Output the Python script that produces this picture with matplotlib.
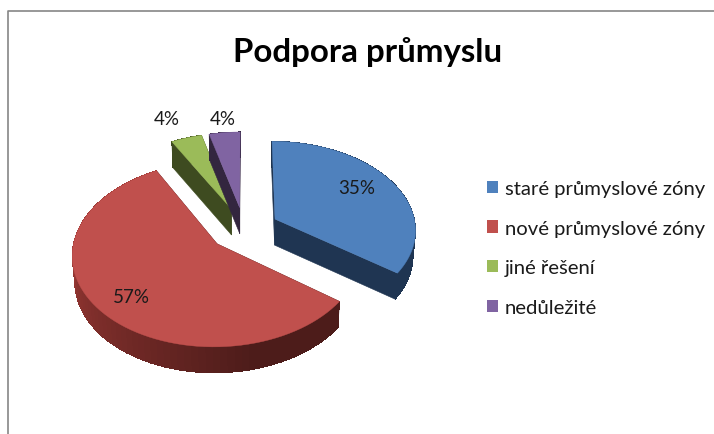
import numpy as np
import matplotlib.pyplot as plt
from matplotlib.patches import Patch

labels = ['staré průmyslové zóny', 'nové průmyslové zóny', 'jiné řešení', 'nedůležité']
values = [35, 57, 4, 4]
colors = ['#4f81bd', '#c0504d', '#9bbb59', '#8064a2']
wall_colors = ['#1f3552', '#4d1c1a', '#3e4b20', '#33263f']
title = 'Podpora průmyslu'

# fake 3d: perspective view of a flat disc, everything in image pixels
cx, cy = 244, 230
ax_a, ax_b = 141, 88.3
persp = 0.109
explode = 0.25
depth = 26
label_r = [0.72, 0.75, 1.38, 1.2]
label_shift = [(-4, -4), (1, 5), (-5, 4), (1, -1)]

plt.rcParams['font.family'] = ['Lato', 'DejaVu Sans']


def project(x, y):
    d = 1 - persp * y
    return cx + ax_a * x / d, cy + ax_b * y / d


def lower(px, py):
    # the bottom plane sits a bit further away so it is slightly narrower
    return cx + (px - cx) * 0.985, py + depth


def slice_point(th, bis, r):
    # th and bis are clockwise from 12 o'clock
    x = explode * np.sin(bis) + r * np.sin(th)
    y = -explode * np.cos(bis) - r * np.cos(th)
    return project(x, y)


def wall_shade(c, th, boost):
    if not boost:
        return c
    f = np.interp(np.degrees(th), [165, 200, 270], [1.0, 1.35, 2.0])
    rgb = np.array(plt.matplotlib.colors.to_rgb(c)) * f
    return tuple(np.clip(rgb, 0, 1))


fig = plt.figure(figsize=(7.14, 4.35), dpi=100)
ax = fig.add_axes([0, 0, 1, 1])
ax.set_xlim(0, 714)
ax.set_ylim(435, 0)
ax.axis('off')

# chart frame
ax.plot([8, 8, 714], [435, 12, 12], color='#868686', lw=1.2)

ends = np.cumsum(values) / sum(values) * 2 * np.pi
starts = np.r_[0, ends[:-1]]

# back slices first, red goes on top
for i in [2, 3, 0, 1]:
    t0, t1 = starts[i], ends[i]
    bis = (t0 + t1) / 2
    ths = np.linspace(t0, t1, 80)
    arc = [slice_point(t, bis, 1) for t in ths]
    apex = slice_point(0, bis, 0)

    for edge in [arc[0], arc[-1]]:
        low_a, low_e = lower(*apex), lower(*edge)
        ax.fill([apex[0], edge[0], low_e[0], low_a[0]], [apex[1], edge[1], low_e[1], low_a[1]],
                color=wall_colors[i], lw=0.4)
    # overlap the strips by one step, otherwise the seams show as stripes
    for j in range(len(arc) - 1):
        k = min(j + 2, len(arc) - 1)
        p, q = arc[j], arc[k]
        lp, lq = lower(*p), lower(*q)
        c = wall_shade(wall_colors[i], ths[j], i == 1)
        ax.fill([p[0], q[0], lq[0], lp[0]], [p[1], q[1], lq[1], lp[1]], color=c, lw=0, antialiased=False)

    xs = [apex[0]] + [p[0] for p in arc]
    ys = [apex[1]] + [p[1] for p in arc]
    ax.fill(xs, ys, color=colors[i], lw=0.3)

    lx, ly = slice_point(bis, bis, label_r[i])
    ax.text(lx + label_shift[i][0], ly + label_shift[i][1], f'{values[i]}%', ha='center', va='center',
            fontsize=13.5, color='#1a1a1a')

ax.text(367.5, 52, title, ha='center', va='center', fontsize=23.8, fontweight='bold', color='black')

handles = [Patch(facecolor=c, edgecolor='none') for c in colors]
ax.legend(handles, labels, loc='center left', bbox_to_anchor=(487 / 714, 1 - 249 / 435), frameon=False,
          fontsize=14.6, handlelength=0.54, handleheight=0.54, handletextpad=0.35, labelspacing=1.12,
          borderpad=0, borderaxespad=0, labelcolor='#1a1a1a')

fig.savefig('out.png', dpi=100)
